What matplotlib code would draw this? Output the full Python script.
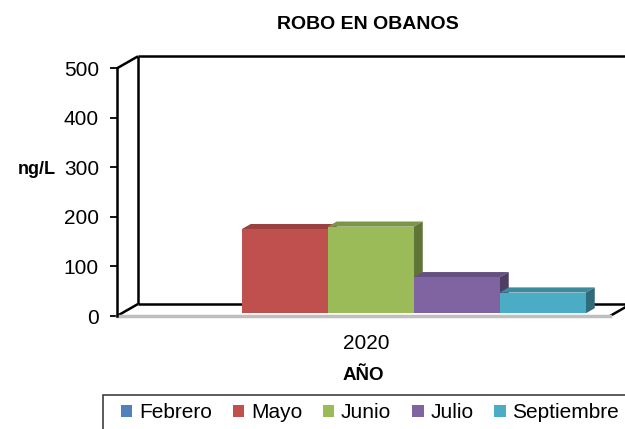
import matplotlib
matplotlib.use('Agg')
import matplotlib.pyplot as plt
from matplotlib.patches import Polygon, Rectangle

# --- datos ---
categoria = ["2020"]
meses = ["Febrero", "Mayo", "Junio", "Julio", "Septiembre"]
valores = [0, 170, 175, 73, 42]
colores = ["#4F81BD", "#C0504D", "#9BBB59", "#8064A2", "#4BACC6"]
yticks = [0, 100, 200, 300, 400, 500]

W, H = 625, 429
plt.rcParams['font.family'] = ['Liberation Sans', 'DejaVu Sans']

fig = plt.figure(figsize=(W / 100, H / 100), dpi=100)
fig.patch.set_facecolor('white')

# zona frontal del grafico (pixeles)
left, right, top, bottom = 117, 610, 68.3, 316
ax = fig.add_axes([left / W, 1 - bottom / H, (right - left) / W, (bottom - top) / H])
ax.set_facecolor('none')

xlim0 = -0.5793
px_x = 430.0
xlim1 = xlim0 + (right - left) / px_x
ax.set_xlim(xlim0, xlim1)
ax.set_ylim(0, 500)
px_y = (bottom - top) / 500.0

# profundidad 3D en unidades de datos
DX = 21 / px_x
DY = 12 / px_y
f0, bd = 0.22, 0.43   # posicion y fondo de las barras
w = 0.2


def shade(c, k):
    r, g, b = matplotlib.colors.to_rgb(c)
    return (r * k, g * k, b * k)


# paredes y suelo
kw = dict(color='black', lw=1.8, clip_on=False, solid_capstyle='butt')
ax.plot([xlim0 + DX, xlim1 + 2 * DX], [DY, DY], zorder=1, **kw)
ax.plot([xlim0 + DX, xlim0 + DX], [DY, 500 + DY], zorder=1, **kw)
ax.plot([xlim0, xlim0 + DX], [500, 500 + DY], zorder=1, **kw)
ax.plot([xlim0 + DX, xlim1 + 2 * DX], [500 + DY, 500 + DY], zorder=1, **kw)
ax.plot([xlim0, xlim0 + DX], [0, DY], zorder=1, **kw)
ax.plot([xlim1, xlim1 + DX], [0, DY], zorder=1, **kw)

# barras
handles = []
for i, (mes, val, col) in enumerate(zip(meses, valores, colores)):
    x0 = (i - 2) * w - w / 2 + f0 * DX
    y0 = f0 * DY
    z = 2 + i * 0.1
    if val > 0:
        top_face = [(x0, y0 + val), (x0 + w, y0 + val),
                    (x0 + w + bd * DX, y0 + val + bd * DY), (x0 + bd * DX, y0 + val + bd * DY)]
        side_face = [(x0 + w, y0), (x0 + w + bd * DX, y0 + bd * DY),
                     (x0 + w + bd * DX, y0 + val + bd * DY), (x0 + w, y0 + val)]
        ax.add_patch(Polygon(top_face, closed=True, color=shade(col, 0.8), lw=0, zorder=z))
        ax.add_patch(Polygon(side_face, closed=True, color=shade(col, 0.62), lw=0, zorder=z))
    b = ax.bar(x0, val, width=w, bottom=y0, align='edge', color=col, lw=0,
               label=mes, zorder=z + 0.05)
    handles.append(b)

# borde frontal del suelo
ax.plot([xlim0, xlim1], [0, 0], color='#BFBFBF', lw=2.5, zorder=5, clip_on=False)

for s in ['top', 'right', 'bottom']:
    ax.spines[s].set_visible(False)
ax.spines['left'].set_linewidth(1.8)
ax.spines['left'].set_zorder(6)
ax.set_yticks(yticks)
ax.tick_params(axis='y', direction='out', length=5, width=1.3, labelsize=15, pad=8)
ax.set_xticks([0])
ax.set_xticklabels(categoria)
ax.tick_params(axis='x', length=0, labelsize=15, pad=13)

ax.set_xlabel('AÑO', fontsize=13.5, fontweight='bold', labelpad=10)
ax.set_ylabel('ng/L', fontsize=13, fontweight='bold', rotation=0, ha='right', va='center')
ax.yaxis.set_label_coords((56 - left) / (right - left), (bottom - 169) / (bottom - top))
ax.set_title('ROBO EN OBANOS', fontsize=14, fontweight='bold',
             x=(368 - left) / (right - left), pad=28)

# caja de leyenda recortada
fig.patches.append(Rectangle((103 / W, -0.1), 0.9, 0.1 + (1 - 395 / H),
                             transform=fig.transFigure, fill=False,
                             edgecolor='#404040', lw=1.2))
fig.legend(handles, meses, ncol=5, loc='center', bbox_to_anchor=(370 / W, 1 - 413 / H),
           frameon=False, fontsize=15, handlelength=0.55, handleheight=0.55,
           handletextpad=0.32, columnspacing=1.0)

fig.savefig('out.png', dpi=100)
